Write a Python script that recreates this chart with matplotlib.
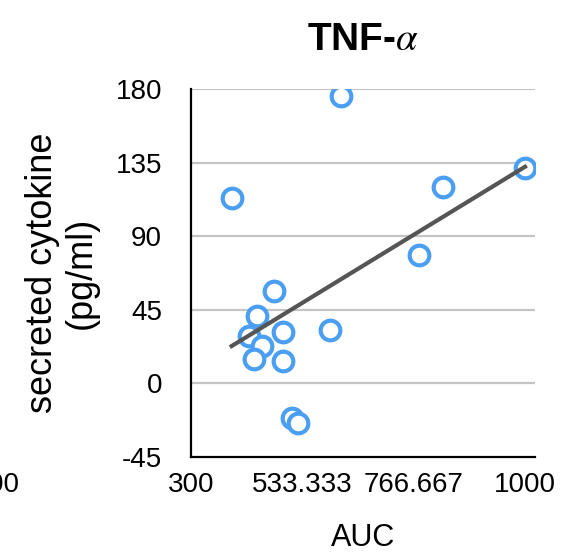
import matplotlib
matplotlib.use("Agg")
import matplotlib.pyplot as plt
import numpy as np

auc = [385, 614, 1000, 829, 777, 473, 439, 422, 492, 591, 449, 431, 492, 511, 525]
cytokine = [113.5, 175.7, 131.8, 119.8, 78.7, 56.2, 41.2, 29.1, 31.2, 32.4, 22.9, 15.1, 13.4, -21.4, -24.0]
x_ticks = [300, 533.333, 766.667, 1000]
x_tick_labels = ["300", "533.333", "766.667", "1000"]
y_ticks = [-45, 0, 45, 90, 135, 180]

plt.rcParams['font.family'] = ['Liberation Sans', 'DejaVu Sans']
plt.rcParams['axes.unicode_minus'] = False
plt.rcParams['mathtext.fontset'] = 'stix'

fig = plt.figure(figsize=(5.67, 5.55), dpi=100)
ax = fig.add_axes([0.337, 0.1766, 0.6066, 0.663])

ax.set_xlim(300, 1021)
ax.set_ylim(-45, 180)
ax.set_yticks(y_ticks)
ax.set_xticks(x_ticks)
ax.set_xticklabels(x_tick_labels)
for yv in y_ticks[1:]:
    ax.axhline(yv, color='#c4c4c4', lw=1.6, zorder=0)

ax.spines['top'].set_visible(False)
ax.spines['right'].set_visible(False)
ax.spines['left'].set_linewidth(1.6)
ax.spines['bottom'].set_linewidth(1.6)
ax.tick_params(axis='both', length=0, labelsize=20)
ax.tick_params(axis='y', pad=21)
ax.tick_params(axis='x', pad=11)

ax.scatter(auc, cytokine, s=200, facecolors='white', edgecolors='#4a9ff2', linewidths=3, zorder=3)

xa = np.array(auc, dtype=float)
ya = np.array(cytokine, dtype=float)
m, b = np.polyfit(xa, ya, 1)
xs = np.array([xa.min(), xa.max()])
ax.plot(xs, m * xs + b, color='#555555', lw=3, zorder=4)

ax.set_title(r"TNF-$\mathit{\alpha}$", fontsize=28, fontweight='bold', pad=28)
ax.set_xlabel("AUC", fontsize=22, labelpad=18)
ax.set_ylabel("secreted cytokine\n(pg/ml)", fontsize=26, labelpad=12, linespacing=1.15)

fig.text(20/567, 1 - 485/555, "1000", ha='right', va='center', fontsize=20)

fig.savefig("out.png", dpi=100)
